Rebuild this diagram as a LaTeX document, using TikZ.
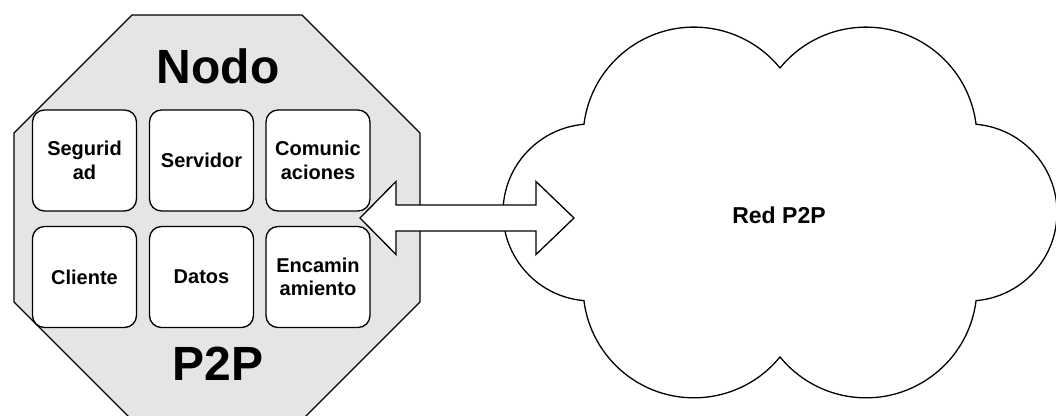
\documentclass[tikz,border=0pt]{standalone}
\usepackage{fontspec}
\setmainfont{Liberation Sans}
\definecolor{octfill}{RGB}{229,229,229}
\begin{document}
\begin{tikzpicture}[x=1pt,y=-1pt,
  line join=miter,
  outline/.style={draw=black,line width=1.3pt},
  box/.style={outline,fill=white,rounded corners=12pt,minimum width=104pt,minimum height=101pt,inner sep=0pt,align=center,
    font=\fontsize{20}{23.5}\selectfont\bfseries},
  bigtxt/.style={font=\fontsize{48}{50}\selectfont\bfseries,inner sep=0pt},
  cloudtxt/.style={font=\fontsize{23}{25}\selectfont\bfseries,inner sep=0pt}]
\useasboundingbox (0,0) rectangle (1056,415);
\clip (0,0) rectangle (1056,415);
% octagon (node P2P)
\draw[outline,fill=octfill] (132,15) -- (302,15) -- (420,133) -- (420,302) -- (302,420) -- (132,420) -- (14,302) -- (14,133) -- cycle;
\node[bigtxt,anchor=base] (nodo) at (218,83) {Nodo};
\node[bigtxt,anchor=base] (p2p) at (218,380) {P2P};
% inner boxes
\node[box] (seg) at (84.5,160.5) {Segurid\\ad};
\node[box] (serv) at (201.5,160.5) {Servidor};
\node[box] (com) at (318,160.5) {Comunic\\aciones};
\node[box] (cli) at (84.5,277) {Cliente};
\node[box] (dat) at (201.5,277) {Datos};
\node[box] (enc) at (318,277) {Encamin\\amiento};
% cloud
\draw[outline,fill=white] (780,68)
  arc[start angle=-140.86,end angle=-7.1,radius=110.9]
  arc[start angle=-85.1,end angle=85.1,radius=88.5]
  arc[start angle=7.1,end angle=140.86,radius=110.9]
  arc[start angle=39.14,end angle=172.9,radius=110.9]
  arc[start angle=94.9,end angle=265.1,radius=88.5]
  arc[start angle=187.1,end angle=320.86,radius=110.9] -- cycle;
\node[cloudtxt] (red) at (779,215) {Red P2P};
% double block arrow
\coordinate (aL) at (360,218);
\coordinate (aR) at (574,218);
\draw[outline,fill=white] (aL) -- ++(36,-36.5) -- ++(0,23.5) -- ++(140,0) -- ++(0,-23.5) -- (aR)
  -- ++(-38,36.5) -- ++(0,-23.5) -- ++(-140,0) -- ++(0,23.5) -- cycle;
\end{tikzpicture}
\end{document}
